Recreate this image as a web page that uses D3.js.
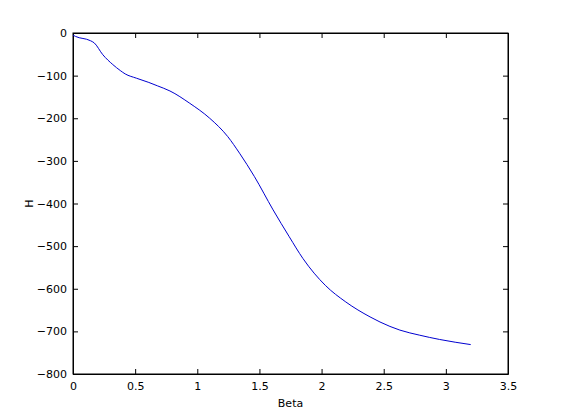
<!DOCTYPE html>
<html>
<head>
<meta charset="utf-8">
<script src="https://cdn.jsdelivr.net/npm/d3@7"></script>
<style>
body { margin: 0; background: #fff; }
text { font-family: "DejaVu Sans", sans-serif; font-size: 11px; fill: #000; }
</style>
</head>
<body>
<svg width="561" height="420"></svg>
<script>
// values
const beta = [0, 0.02, 0.14, 0.17, 0.24, 0.32, 0.38, 0.42, 0.51, 0.61, 0.68, 0.78, 0.94, 1.10, 1.245,
    1.34, 1.46, 1.61, 1.74, 1.85, 2.03, 2.195, 2.39, 2.47, 2.63, 2.79, 2.95, 3.2]
const H = [-5, -8, -18, -23, -51, -74, -88, -96, -106, -116, -124, -136, -165, -200, -243,
    -282, -337, -415, -478, -529, -592, -631, -666, -678, -697, -709, -719, -731]
const xTicks = [0, 0.5, 1, 1.5, 2, 2.5, 3, 3.5]
const yTicks = [0, -100, -200, -300, -400, -500, -600, -700, -800]

let svg = d3.select("svg")
let margin = {left: 73, right: 53, top: 33, bottom: 46}
let width = 561 - margin.left - margin.right
let height = 420 - margin.top - margin.bottom
let g = svg.append("g").attr("transform", `translate(${margin.left},${margin.top})`)

let x = d3.scaleLinear().domain([0, 3.5]).range([0, width])
let y = d3.scaleLinear().domain([-800, 0]).range([height, 0])

const tickLen = 5

// bottom / top
g.append("g")
    .attr("transform", `translate(0,${height})`)
    .call(d3.axisBottom(x).tickValues(xTicks).tickSizeInner(-tickLen).tickSizeOuter(0).tickPadding(8).tickFormat(d3.format("")))
g.append("g")
    .call(d3.axisTop(x).tickValues(xTicks).tickSizeInner(-tickLen).tickSizeOuter(0).tickFormat(""))
// left / right
g.append("g")
    .call(d3.axisLeft(y).tickValues(yTicks).tickSizeInner(-tickLen).tickSizeOuter(0).tickPadding(6).tickFormat(d3.format("")))
g.append("g")
    .attr("transform", `translate(${width},0)`)
    .call(d3.axisRight(y).tickValues(yTicks).tickSizeInner(-tickLen).tickSizeOuter(0).tickFormat(""))

g.selectAll(".domain").attr("stroke", "#000")
g.selectAll(".tick line").attr("stroke", "#000")
g.selectAll(".tick text").attr("font-size", null).attr("font-family", null)

g.append("rect")
    .attr("width", width).attr("height", height)
    .attr("fill", "none").attr("stroke", "#000")

let line = d3.line()
    .x((d, i) => x(beta[i]))
    .y(d => y(d))
    .curve(d3.curveMonotoneX)

g.append("path")
    .datum(H)
    .attr("fill", "none")
    .attr("stroke", "#0000d0")
    .attr("stroke-width", 1)
    .attr("d", line)

svg.append("text")
    .attr("x", margin.left + width / 2)
    .attr("y", 407)
    .attr("text-anchor", "middle")
    .text("Beta")

svg.append("text")
    .attr("transform", `translate(32.5,${margin.top + height / 2}) rotate(-90)`)
    .attr("text-anchor", "middle")
    .text("H")
</script>
</body>
</html>
